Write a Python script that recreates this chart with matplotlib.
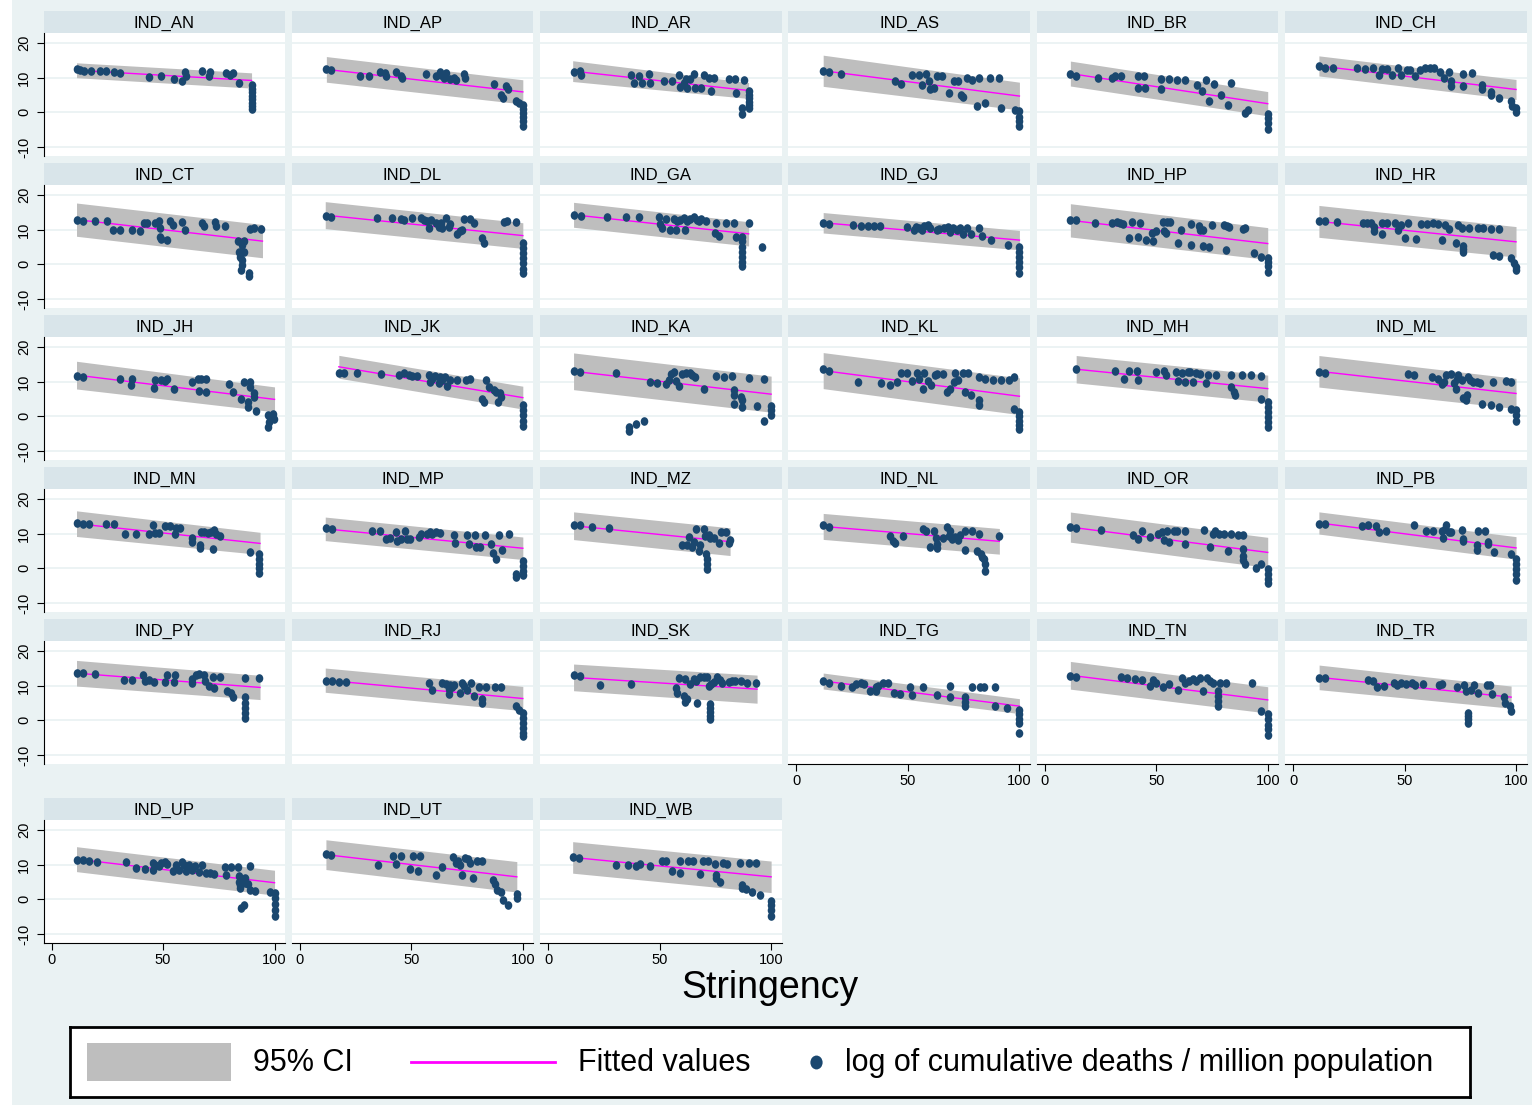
import matplotlib
matplotlib.use("Agg")
import matplotlib.pyplot as plt
from matplotlib.patches import Rectangle
from matplotlib.markers import MarkerStyle
from matplotlib.transforms import Affine2D

plt.rcParams['font.family'] = ['Liberation Sans', 'DejaVu Sans']

# ---------------------------------------------------
# DATA (stringency, log of cumulative deaths / million)
# ---------------------------------------------------

states = ["AN", "AP", "AR", "AS", "BR", "CH", "CT", "DL", "GA", "GJ", "HP",
          "HR", "JH", "JK", "KA", "KL", "MH", "ML", "MN", "MP", "MZ", "NL",
          "OR", "PB", "PY", "RJ", "SK", "TG", "TN", "TR", "UP", "UT", "WB"]

AN_x = [11.2, 12.8, 14.6, 17.9, 21.7, 24.4, 28.0, 30.7, 43.7, 49.3, 54.9, 58.7, 59.9, 60.5, 67.7, 71.1, 70.6, 78.3, 80.0, 81.4, 84.1, 89.7, 89.7, 89.7, 89.7, 89.7, 89.7, 89.7, 89.7]
AN_y = [12.4, 12.2, 11.9, 11.9, 11.9, 11.9, 11.7, 11.4, 10.1, 10.4, 9.7, 9.0, 11.7, 10.4, 11.9, 11.6, 10.4, 11.4, 10.9, 11.4, 8.5, 7.8, 6.8, 5.8, 4.8, 3.8, 2.8, 1.8, 0.9]

AP_x = [11.9, 14.1, 27.1, 30.9, 35.9, 38.3, 38.8, 43.3, 45.5, 46.0, 56.7, 61.2, 62.8, 63.5, 64.6, 65.7, 67.3, 69.1, 70.2, 73.5, 74.2, 87.0, 90.4, 91.0, 92.6, 93.3, 97.1, 98.2, 100, 100, 100, 100, 100, 100]
AP_y = [12.4, 12.2, 10.4, 10.4, 11.6, 11.4, 10.4, 11.6, 10.6, 9.8, 11.2, 10.4, 11.7, 10.9, 10.0, 11.4, 9.5, 10.0, 9.2, 11.1, 10.0, 8.2, 5.1, 4.2, 7.5, 6.6, 3.2, 2.7, 2.2, 1.0, -0.2, -1.4, -2.6, -3.8]

AR_x = [11.4, 14.3, 14.8, 37.2, 38.3, 40.6, 42.2, 45.1, 45.7, 51.8, 55.6, 58.5, 59.2, 60.8, 61.9, 62.3, 63.7, 65.2, 65.9, 68.6, 69.7, 72.0, 73.1, 74.2, 80.9, 83.9, 84.3, 87.7, 87.0, 87.0, 89.9, 89.9, 89.9, 89.9, 89.9, 89.9]
AR_y = [11.7, 11.9, 10.9, 10.9, 8.5, 10.4, 8.5, 11.1, 8.5, 9.0, 9.0, 10.9, 7.2, 8.5, 9.5, 7.1, 9.5, 11.1, 7.1, 6.9, 10.9, 10.0, 6.3, 9.8, 9.5, 9.5, 5.6, 9.2, 1.3, -0.5, 6.1, 5.0, 4.0, 3.0, 2.0, 1.3]

AS_x = [12.0, 14.5, 19.9, 44.0, 47.0, 51.9, 55.1, 56.2, 57.9, 59.4, 59.8, 61.5, 63.2, 65.4, 68.4, 70.5, 72.6, 73.9, 74.8, 76.5, 78.6, 80.8, 81.8, 84.6, 86.8, 91.0, 91.9, 97.9, 100, 100, 100, 100]
AS_y = [11.9, 11.7, 11.2, 9.0, 8.2, 10.9, 10.9, 7.8, 11.1, 9.0, 6.6, 7.1, 10.4, 10.4, 5.6, 9.0, 9.0, 5.1, 4.3, 10.0, 9.2, 1.7, 10.0, 2.7, 9.8, 9.8, 1.3, 0.8, 0.3, -1.2, -2.6, -3.8]

BR_x = [11.5, 14.1, 23.7, 30.1, 31.6, 34.3, 41.8, 44.3, 41.8, 45.0, 52.0, 52.0, 55.7, 59.3, 63.1, 68.4, 70.6, 72.1, 73.8, 75.9, 79.1, 82.3, 83.4, 89.8, 91.3, 100, 100, 100, 100]
BR_y = [11.1, 10.6, 10.0, 10.0, 10.4, 10.4, 10.4, 10.4, 7.1, 7.1, 9.5, 6.6, 9.5, 9.2, 9.2, 8.0, 6.1, 9.2, 3.4, 8.2, 4.9, 2.2, 8.5, -0.2, 0.8, -0.5, -1.6, -3.1, -4.7]

CH_x = [11.6, 14.2, 18.1, 28.9, 32.1, 35.8, 38.6, 39.7, 42.2, 44.4, 47.2, 48.3, 51.1, 52.6, 54.7, 56.9, 59.1, 61.6, 63.4, 65.9, 67.7, 69.8, 70.9, 76.3, 76.3, 80.2, 84.9, 88.8, 92.5, 97.8, 98.3, 100, 100, 70.9, 84.9, 88.8]
CH_y = [13.3, 12.9, 12.9, 12.7, 12.6, 12.7, 10.9, 12.4, 12.4, 10.9, 12.7, 10.9, 12.1, 12.1, 10.4, 12.1, 12.7, 12.9, 12.7, 11.7, 10.0, 11.7, 7.5, 11.2, 7.5, 11.4, 6.6, 4.9, 4.2, 3.2, 1.7, 1.3, 0.1, 9.0, 8.0, 5.9]

CT_x = [11.2, 13.9, 19.5, 25.1, 27.4, 30.7, 36.3, 39.7, 41.5, 43.0, 46.4, 48.2, 48.7, 48.7, 49.1, 52.0, 53.1, 54.3, 58.7, 59.9, 67.7, 68.4, 73.3, 73.8, 77.8, 83.4, 84.1, 84.5, 85.0, 86.3, 86.3, 88.6, 89.0, 90.8, 93.9, 85.6, 85.6, 85.6, 88.6]
CT_y = [12.9, 12.6, 12.6, 12.6, 10.0, 10.0, 10.0, 9.5, 11.9, 11.9, 11.9, 12.4, 10.4, 8.0, 7.2, 7.1, 12.4, 11.4, 12.1, 10.0, 11.9, 11.1, 12.1, 11.1, 11.1, 6.6, 3.7, 2.2, -1.6, 6.6, 3.7, -2.6, 10.1, 10.4, 10.1, 5.6, 1.3, -0.2, -3.4]

DL_x = [11.9, 14.1, 34.8, 41.5, 45.5, 46.6, 50.4, 54.5, 55.6, 57.2, 57.8, 59.0, 61.2, 62.3, 63.5, 63.9, 65.7, 66.8, 67.5, 70.6, 72.0, 72.9, 73.5, 76.5, 78.0, 81.8, 82.5, 91.5, 93.0, 97.1, 100, 100, 100, 100, 100, 100, 100]
DL_y = [14.0, 13.6, 13.3, 13.3, 13.0, 12.9, 13.3, 13.3, 12.9, 12.4, 10.4, 12.7, 11.9, 10.9, 11.9, 10.4, 13.3, 10.9, 11.7, 8.8, 9.5, 9.8, 13.0, 13.0, 11.9, 7.5, 6.1, 12.1, 12.4, 12.1, 6.1, 4.6, 3.2, 1.7, 0.3, -1.2, -2.4]

GA_x = [11.4, 14.8, 26.5, 35.0, 40.6, 49.6, 50.2, 51.1, 52.9, 54.7, 56.3, 57.4, 57.8, 59.2, 60.8, 61.4, 62.3, 63.7, 65.2, 66.8, 67.5, 68.6, 70.9, 74.9, 75.3, 76.5, 79.8, 83.2, 84.3, 87.0, 87.0, 87.0, 87.0, 87.0, 87.0, 87.0, 89.9, 96.0]
GA_y = [14.3, 14.0, 13.6, 13.6, 13.6, 13.6, 11.7, 10.4, 13.0, 9.8, 13.0, 9.8, 12.4, 12.9, 13.3, 9.8, 12.4, 13.0, 13.6, 12.9, 12.4, 13.0, 12.4, 9.0, 11.9, 8.2, 11.9, 11.9, 8.0, 8.0, 6.6, 5.1, 3.7, 2.2, 0.8, -0.5, 11.9, 4.9]

GJ_x = [12.0, 14.5, 25.2, 29.1, 32.1, 34.8, 37.6, 49.8, 52.6, 53.4, 55.1, 56.2, 57.3, 59.0, 59.8, 63.2, 64.1, 66.2, 67.9, 69.0, 70.1, 71.8, 73.3, 74.8, 76.5, 78.2, 81.8, 83.3, 87.2, 94.7, 100, 100, 100, 100, 100, 100]
GJ_y = [11.9, 11.7, 11.4, 11.1, 11.1, 11.1, 11.1, 10.9, 10.0, 10.9, 10.4, 9.8, 11.1, 11.4, 10.4, 9.8, 10.1, 10.4, 10.7, 9.2, 10.4, 10.0, 10.4, 8.8, 10.4, 8.8, 10.4, 8.2, 7.1, 5.6, 4.9, 3.7, 2.2, 0.8, -0.7, -2.6]

HP_x = [11.5, 14.1, 22.6, 30.1, 32.2, 33.7, 35.0, 39.2, 42.9, 38.0, 41.8, 45.6, 48.6, 48.2, 49.9, 52.9, 53.5, 55.0, 54.6, 56.3, 61.0, 59.9, 65.7, 65.7, 69.1, 69.5, 71.2, 71.2, 73.8, 74.8, 80.2, 81.2, 81.9, 82.7, 88.7, 89.8, 94.0, 96.8, 100, 100, 100, 100]
HP_y = [12.9, 12.7, 11.9, 11.9, 12.1, 11.9, 11.7, 12.1, 11.9, 7.5, 8.0, 7.1, 6.6, 9.0, 9.5, 12.1, 9.5, 12.1, 9.0, 12.1, 10.0, 6.1, 5.6, 11.7, 11.1, 10.0, 10.0, 5.3, 4.9, 11.4, 11.4, 4.2, 11.1, 10.9, 10.1, 10.4, 3.2, 2.2, 1.7, 0.8, -0.5, -2.1]

HR_x = [11.6, 14.2, 19.8, 31.5, 33.2, 34.9, 36.4, 39.7, 40.1, 42.2, 45.7, 47.2, 48.3, 50.0, 51.5, 55.2, 57.3, 60.1, 62.9, 65.1, 66.6, 68.1, 69.8, 73.1, 74.1, 75.9, 76.3, 78.9, 82.8, 85.3, 88.8, 92.5, 89.7, 92.5, 97.8, 98.9, 100, 100, 76.3, 76.3, 36.4]
HR_y = [12.6, 12.4, 12.1, 11.9, 11.9, 11.9, 9.5, 11.9, 8.8, 11.9, 11.9, 10.0, 11.4, 7.7, 11.9, 7.2, 11.7, 11.7, 11.9, 11.7, 7.1, 11.4, 10.1, 6.1, 11.4, 10.4, 3.7, 10.4, 10.4, 10.4, 10.2, 10.2, 2.7, 2.4, 1.7, 0.3, -0.7, -1.6, 5.3, 4.5, 10.7]

JH_x = [11.2, 13.9, 30.7, 35.7, 36.3, 46.0, 46.4, 49.1, 50.9, 52.0, 54.9, 63.2, 65.5, 66.1, 67.0, 69.3, 69.3, 79.6, 81.2, 85.0, 86.3, 87.9, 89.0, 90.8, 91.7, 96.9, 97.5, 99.1, 99.8, 87.9, 96.9, 89.0, 90.8]
JH_y = [11.7, 11.4, 10.9, 9.0, 10.9, 8.2, 10.4, 10.4, 10.1, 10.9, 8.0, 10.0, 10.9, 7.2, 10.9, 7.1, 10.9, 9.2, 7.1, 5.1, 10.0, 2.7, 10.0, 6.6, 1.4, 0.3, -1.6, 0.8, -0.7, 4.2, -3.1, 8.5, 5.6]

JK_x = [17.5, 19.7, 25.8, 36.5, 44.4, 46.6, 48.9, 50.4, 52.7, 57.8, 58.5, 59.4, 60.8, 62.3, 63.0, 63.9, 65.2, 66.1, 67.5, 70.6, 74.7, 76.5, 83.6, 84.8, 81.8, 82.5, 87.0, 88.1, 88.8, 89.9, 90.4, 100, 100, 100, 100, 100]
JK_y = [12.4, 12.4, 12.4, 12.1, 11.9, 12.4, 11.9, 11.7, 11.7, 11.9, 10.0, 10.9, 11.7, 9.5, 11.4, 10.4, 11.4, 8.8, 10.4, 10.4, 10.4, 10.7, 10.4, 8.5, 4.9, 4.2, 7.5, 7.1, 4.0, 6.6, 5.6, 3.2, 1.7, 0.3, -1.2, -2.8]

KA_x = [11.4, 14.3, 30.5, 36.1, 39.5, 42.8, 45.7, 48.9, 52.9, 54.0, 55.2, 56.3, 57.4, 58.5, 60.1, 61.9, 63.7, 64.6, 65.9, 69.7, 75.3, 78.7, 82.5, 83.2, 83.2, 86.5, 87.0, 89.9, 93.7, 96.6, 96.6, 100, 100, 100, 83.2, 87.0, 36.1]
KA_y = [13.0, 12.7, 12.4, -3.1, -2.1, -1.4, 9.8, 9.5, 9.2, 10.4, 12.1, 12.7, 10.1, 8.8, 12.1, 12.4, 12.6, 11.9, 11.4, 8.0, 11.6, 11.4, 11.6, 7.5, 3.7, 5.6, 2.7, 11.1, 3.0, 10.9, -1.2, 3.0, 1.7, 0.5, 6.1, 4.6, -4.1]

KL_x = [12.0, 14.5, 27.4, 38.0, 41.9, 44.9, 47.0, 49.8, 51.9, 54.1, 55.1, 56.8, 57.3, 59.0, 60.5, 62.0, 63.2, 65.8, 67.5, 69.0, 70.5, 71.2, 72.6, 74.8, 76.9, 75.4, 78.2, 81.8, 81.8, 84.6, 88.2, 91.9, 95.3, 97.4, 97.4, 100, 100, 100, 100, 100, 81.8]
KL_y = [13.8, 13.0, 9.8, 9.5, 9.0, 10.0, 12.4, 12.4, 10.1, 12.4, 10.9, 8.0, 12.4, 10.1, 9.0, 11.9, 12.1, 12.1, 7.1, 7.8, 10.0, 12.4, 10.4, 12.4, 12.4, 7.1, 6.3, 3.2, 11.4, 10.9, 10.4, 10.4, 10.4, 11.4, 2.2, 1.3, 0.1, -1.2, -2.6, -3.6, 4.6]

MH_x = [14.1, 31.6, 35.4, 38.0, 41.4, 41.8, 49.9, 53.5, 54.6, 58.8, 59.9, 61.4, 62.7, 64.2, 65.2, 66.3, 67.8, 69.5, 72.1, 73.3, 77.0, 83.4, 83.4, 84.9, 85.5, 88.3, 92.5, 96.8, 96.8, 100, 100, 100, 100, 100, 100]
MH_y = [13.6, 13.0, 10.9, 13.0, 13.0, 10.4, 12.9, 13.0, 11.9, 12.9, 10.1, 12.4, 10.0, 12.7, 12.9, 10.0, 12.4, 12.1, 9.5, 11.9, 11.9, 11.9, 8.5, 7.1, 6.3, 11.9, 11.9, 11.7, 5.1, 4.2, 2.7, 1.3, -0.2, -1.6, -3.1]

ML_x = [11.6, 14.2, 51.5, 54.3, 62.3, 65.1, 66.6, 67.7, 68.8, 70.9, 72.0, 73.1, 73.7, 74.1, 75.9, 76.3, 77.4, 78.0, 78.4, 79.5, 80.6, 82.3, 83.8, 84.9, 88.8, 92.5, 89.7, 95.3, 97.8, 97.8, 100, 100, 100]
ML_y = [12.7, 12.4, 12.1, 11.9, 11.4, 10.9, 9.2, 10.0, 11.9, 12.1, 9.5, 8.0, 10.9, 11.9, 10.4, 5.3, 4.6, 6.1, 11.4, 10.4, 10.0, 9.8, 9.5, 3.7, 3.2, 2.7, 10.0, 10.2, 10.0, 2.2, 1.7, 0.3, -1.2]

MN_x = [11.2, 13.9, 16.8, 24.4, 28.0, 33.0, 37.9, 43.7, 45.3, 46.4, 48.2, 50.9, 53.1, 55.4, 55.8, 57.6, 63.2, 63.2, 66.6, 66.6, 67.0, 68.4, 70.0, 71.5, 72.2, 72.9, 73.8, 75.6, 89.0, 93.0, 93.0, 93.0, 93.0, 93.0]
MN_y = [13.0, 12.9, 12.7, 12.7, 12.7, 10.0, 10.0, 9.8, 12.4, 10.1, 10.1, 12.1, 12.1, 9.8, 11.7, 11.6, 8.8, 7.5, 6.6, 5.9, 10.4, 10.4, 10.1, 10.4, 5.6, 11.1, 10.0, 9.2, 4.6, 4.2, 2.7, 1.3, 0.1, -1.2]

MP_x = [11.9, 14.6, 32.5, 36.1, 38.8, 40.6, 43.3, 43.7, 45.5, 47.3, 48.2, 49.6, 53.4, 54.5, 57.2, 58.5, 59.4, 61.2, 63.0, 69.1, 69.7, 75.1, 75.8, 78.7, 79.1, 80.9, 83.2, 85.9, 86.5, 88.1, 89.2, 90.8, 93.7, 97.1, 97.1, 100, 100, 100, 100]
MP_y = [11.6, 11.4, 10.7, 10.7, 8.5, 8.8, 10.4, 7.8, 8.5, 10.9, 8.5, 8.5, 9.0, 9.8, 10.0, 10.4, 9.8, 10.4, 10.1, 9.5, 7.2, 9.5, 7.1, 9.5, 6.3, 6.1, 9.7, 7.1, 4.3, 2.7, 9.5, 5.3, 9.8, -2.6, -1.6, 2.2, 0.8, -0.7, -1.9]

MZ_x = [11.4, 14.3, 19.7, 27.1, 60.1, 62.3, 63.0, 64.6, 65.2, 66.4, 67.5, 68.2, 69.7, 70.4, 70.9, 71.3, 71.3, 71.3, 72.0, 72.6, 74.2, 76.5, 77.6, 79.8, 80.9, 81.6]
MZ_y = [12.4, 12.4, 11.9, 11.7, 6.6, 6.6, 9.0, 6.1, 7.5, 11.4, 4.9, 6.6, 11.4, 9.2, 4.2, 2.7, 1.3, -0.2, 9.5, 8.8, 8.8, 7.2, 10.4, 10.4, 7.2, 8.2]

NL_x = [12.0, 14.5, 41.9, 43.4, 44.0, 47.6, 56.8, 58.3, 59.8, 61.5, 62.6, 63.2, 63.2, 65.8, 67.5, 68.4, 69.0, 69.7, 71.2, 72.6, 73.3, 75.4, 75.4, 78.6, 81.2, 81.8, 82.9, 84.0, 84.6, 91.0, 84.6, 83.3]
NL_y = [12.4, 11.9, 9.2, 8.0, 7.2, 9.2, 11.4, 10.9, 6.3, 10.9, 8.8, 7.1, 5.9, 8.8, 11.9, 9.2, 10.9, 8.5, 9.0, 8.2, 9.5, 10.9, 5.3, 10.9, 5.1, 10.0, 4.2, 2.7, -0.9, 9.2, 1.3, 3.4]

OR_x = [11.5, 14.1, 25.2, 39.7, 41.8, 43.5, 47.1, 50.7, 52.5, 53.5, 55.0, 55.7, 57.8, 59.3, 62.7, 63.1, 71.6, 74.2, 75.5, 76.3, 78.0, 80.6, 82.3, 83.4, 86.6, 89.1, 89.1, 89.8, 94.7, 96.8, 100, 100, 100, 100, 89.1, 89.1]
OR_y = [11.9, 11.7, 11.1, 9.5, 8.5, 10.9, 9.0, 10.0, 10.4, 8.2, 10.9, 7.5, 10.9, 10.9, 10.9, 6.9, 11.1, 6.3, 10.0, 10.9, 10.0, 9.8, 4.9, 10.0, 9.5, 9.5, 3.7, 1.3, 0.1, 1.3, -0.2, -1.6, -3.1, -4.1, 5.5, 2.5]

PB_x = [11.6, 14.2, 31.0, 33.6, 37.1, 38.6, 41.8, 54.3, 59.5, 62.9, 66.6, 67.2, 68.1, 68.8, 69.8, 70.9, 75.9, 76.3, 82.3, 82.8, 86.0, 87.5, 90.3, 97.8, 100, 100, 100, 100, 100, 82.3, 76.3, 87.5]
PB_y = [12.7, 12.7, 12.1, 12.4, 12.1, 10.4, 10.9, 12.4, 10.9, 10.9, 10.9, 8.8, 11.4, 12.4, 10.4, 10.4, 11.1, 7.8, 5.3, 10.9, 10.9, 6.9, 4.6, 4.0, 2.7, 1.3, -0.2, -1.6, -3.4, 6.6, 8.5, 7.5]

PY_x = [11.2, 13.9, 19.5, 32.5, 36.3, 40.8, 41.9, 43.7, 46.0, 50.9, 52.0, 54.9, 55.4, 63.2, 63.2, 64.8, 66.1, 68.4, 68.8, 70.6, 72.2, 72.9, 75.6, 78.9, 80.5, 81.2, 86.8, 86.8, 86.8, 86.8, 86.8, 86.8, 93.0]
PY_y = [13.8, 13.6, 13.3, 11.6, 11.6, 13.0, 11.4, 11.7, 11.2, 11.2, 13.0, 11.2, 13.0, 10.9, 11.9, 13.0, 13.3, 13.0, 11.4, 10.0, 12.4, 9.2, 12.4, 8.5, 7.8, 6.6, 12.1, 6.6, 5.1, 3.7, 2.2, 0.8, 12.1]

RJ_x = [11.9, 14.6, 17.5, 20.9, 57.8, 59.4, 63.9, 65.7, 66.8, 67.5, 68.4, 69.1, 72.0, 72.9, 73.5, 75.1, 76.9, 78.0, 80.3, 81.8, 83.6, 87.7, 90.4, 97.1, 98.2, 100, 100, 100, 100, 100, 100, 81.8, 66.8]
RJ_y = [11.4, 11.4, 11.1, 11.1, 10.9, 8.8, 10.9, 10.4, 7.5, 10.1, 9.5, 10.1, 8.0, 10.9, 9.8, 8.8, 10.9, 7.1, 9.5, 4.9, 9.5, 9.5, 9.5, 4.0, 3.0, 2.2, 0.8, -0.7, -2.1, -3.6, -4.5, 6.1, 9.0]

SK_x = [11.4, 14.3, 23.3, 37.2, 57.4, 57.8, 58.5, 60.8, 61.4, 61.4, 62.3, 63.7, 65.2, 66.4, 66.8, 68.2, 69.7, 71.3, 72.0, 72.6, 72.6, 73.1, 74.2, 75.8, 77.1, 78.0, 80.9, 82.5, 83.9, 86.5, 89.2, 93.3, 72.6, 72.6, 72.6]
SK_y = [13.0, 12.7, 10.1, 10.4, 9.2, 8.0, 12.1, 7.1, 11.9, 5.3, 6.3, 10.4, 11.9, 11.4, 4.9, 12.4, 12.4, 12.4, 10.0, 3.7, 1.3, 10.6, 11.1, 12.4, 11.7, 10.9, 11.1, 11.4, 11.4, 11.4, 10.9, 10.9, 2.4, 0.5, 4.6]

TG_x = [11.9, 14.5, 19.8, 25.1, 26.8, 28.9, 30.4, 33.2, 35.7, 36.8, 38.9, 41.1, 43.8, 46.4, 51.1, 51.7, 56.6, 63.0, 68.7, 68.7, 75.7, 75.7, 78.7, 82.1, 84.3, 88.9, 88.9, 94.3, 100, 100, 100, 100, 100, 75.7, 35.7]
TG_y = [11.4, 10.9, 10.0, 9.5, 10.4, 10.9, 10.4, 8.5, 8.5, 10.0, 10.9, 10.9, 7.8, 7.5, 9.5, 7.2, 9.5, 7.2, 9.8, 6.6, 6.6, 4.2, 9.7, 9.7, 9.5, 9.7, 4.0, 3.7, 3.0, 1.7, 0.5, -0.7, -3.6, 5.3, 9.5]

TN_x = [11.5, 14.1, 34.3, 37.1, 40.7, 43.5, 47.1, 48.6, 49.9, 52.9, 55.7, 59.9, 61.4, 63.1, 64.8, 66.3, 67.8, 69.5, 71.2, 72.7, 74.2, 75.5, 77.6, 77.6, 78.5, 81.2, 93.0, 96.8, 100, 100, 100, 100, 100, 77.6, 77.6]
TN_y = [12.9, 12.6, 12.4, 12.1, 11.9, 11.7, 10.0, 11.7, 10.9, 9.5, 10.6, 8.8, 12.1, 10.9, 11.4, 11.9, 11.4, 12.1, 8.5, 12.1, 11.4, 10.9, 7.1, 4.2, 10.9, 10.9, 10.9, 2.7, 1.7, 0.3, -1.2, -2.6, -4.3, 8.5, 5.6]

TR_x = [11.7, 14.3, 33.8, 35.9, 37.7, 40.9, 45.2, 46.8, 48.5, 50.6, 53.2, 54.5, 58.2, 65.4, 66.9, 73.4, 76.6, 77.7, 78.4, 78.4, 78.4, 78.4, 79.9, 81.0, 83.1, 87.0, 88.5, 89.2, 94.4, 95.0, 97.2, 97.8]
TR_y = [12.2, 12.1, 11.6, 11.4, 9.7, 10.0, 10.9, 10.1, 10.9, 10.4, 10.9, 10.1, 10.6, 10.2, 10.6, 9.5, 10.1, 8.5, 2.2, 1.3, 0.3, -0.7, 8.8, 10.1, 8.0, 10.1, 10.1, 7.5, 6.6, 4.9, 4.0, 2.7]

UP_x = [11.2, 13.9, 16.8, 20.6, 33.4, 37.9, 41.9, 45.3, 45.3, 46.4, 48.2, 49.1, 50.9, 52.0, 54.3, 55.8, 57.2, 58.7, 59.4, 60.3, 61.7, 63.2, 64.3, 66.1, 67.7, 69.3, 71.1, 72.9, 77.8, 78.3, 80.5, 83.4, 84.1, 84.5, 85.0, 85.7, 86.3, 86.8, 87.9, 89.0, 89.0, 91.3, 98.0, 100, 100, 100, 100, 100, 84.1, 84.5, 86.8]
UP_y = [11.3, 11.3, 11.0, 10.8, 10.7, 9.0, 8.8, 8.5, 10.5, 9.8, 9.5, 10.5, 10.7, 10.2, 8.1, 10.0, 8.5, 10.7, 9.8, 8.3, 10.0, 8.5, 9.5, 7.9, 9.8, 7.6, 7.6, 7.4, 9.2, 7.1, 9.2, 9.2, 6.6, 3.2, -2.6, 5.1, -1.7, 6.1, 4.4, 9.5, 2.7, 2.4, 2.2, 1.7, 0.3, -1.2, -3.1, -4.8, 5.1, 4.2, 4.7]

UT_x = [11.7, 13.9, 35.2, 41.9, 43.0, 45.3, 49.3, 50.9, 53.1, 53.8, 61.0, 63.7, 68.8, 70.0, 71.1, 71.7, 72.6, 74.0, 75.6, 76.2, 77.8, 79.4, 81.6, 86.8, 88.3, 90.1, 91.3, 93.5, 97.3, 87.4, 97.3]
UT_y = [13.1, 12.7, 9.8, 12.4, 10.2, 12.4, 8.8, 12.4, 8.1, 12.4, 7.1, 9.2, 12.1, 10.5, 11.2, 10.0, 6.9, 11.9, 11.5, 10.5, 6.3, 11.0, 11.2, 5.6, 2.7, 2.2, -0.2, -1.7, 1.5, 4.4, 0.5]

WB_x = [11.0, 14.0, 30.6, 35.8, 39.2, 41.4, 45.5, 50.9, 52.7, 55.4, 59.0, 59.0, 62.8, 65.1, 68.0, 69.6, 71.8, 74.8, 75.2, 77.0, 78.6, 80.2, 86.0, 86.9, 88.7, 89.9, 91.4, 93.2, 95.0, 100, 100, 100, 100, 75.2, 86.9]
WB_y = [12.1, 11.9, 9.8, 9.8, 9.5, 10.2, 9.5, 11.2, 11.0, 8.3, 7.6, 11.2, 11.2, 11.2, 7.3, 11.2, 11.0, 10.2, 7.1, 5.0, 10.5, 10.2, 10.5, 4.2, 2.9, 10.5, 2.2, 10.5, 1.3, -0.5, -1.7, -3.1, -4.8, 6.1, 3.2]

# fitted line ends and 95% CI half widths, same order as states
fit_x0 = [11.2, 11.9, 11.0, 12.0, 11.5, 11.6, 11.2, 11.4, 11.4, 12.0, 11.5, 11.6, 11.2, 17.5, 11.4, 12.0, 14.1,
          11.6, 11.2, 11.4, 11.4, 12.0, 11.5, 11.6, 11.2, 11.4, 11.4, 12.0, 11.5, 11.7, 11.2, 11.7, 11.0]
fit_x1 = [89.7, 100, 89.9, 100, 100, 100, 94.6, 100, 89.9, 100, 100, 100, 100, 100, 100, 100, 100,
          100, 93.5, 100, 81.6, 91.0, 100, 100, 93.5, 100, 93.7, 100, 100, 97.8, 100, 97.3, 100]
fit_y0 = [12.15, 12.4, 11.9, 12.0, 11.2, 13.4, 12.9, 14.2, 14.3, 12.0, 12.7, 12.4, 11.9, 14.3, 13.0, 13.2, 13.6,
          13.0, 12.9, 11.4, 12.3, 12.1, 11.9, 13.1, 13.6, 11.6, 12.4, 11.35, 13.0, 12.4, 11.6, 12.9, 12.1]
fit_y1 = [9.2, 5.9, 6.3, 4.7, 2.5, 6.6, 6.7, 8.3, 8.8, 7.0, 6.0, 6.5, 4.9, 5.4, 6.4, 5.8, 8.0,
          6.6, 7.2, 5.8, 7.7, 7.8, 4.6, 5.9, 9.5, 6.3, 9.0, 4.1, 5.9, 6.7, 4.8, 6.5, 6.5]
ci_h0 = [2.15, 3.7, 3.0, 4.5, 3.6, 2.9, 4.8, 3.9, 3.6, 2.95, 4.8, 4.6, 4.0, 3.3, 5.3, 5.2, 3.95,
         4.55, 3.7, 3.4, 4.0, 3.75, 4.35, 3.2, 3.7, 3.5, 3.85, 2.3, 4.0, 3.55, 3.6, 4.3, 4.55]
ci_h1 = [2.2, 3.5, 2.3, 4.0, 3.5, 2.9, 4.8, 3.7, 3.5, 2.8, 4.6, 4.4, 3.6, 3.3, 5.2, 5.3, 3.9,
         4.35, 3.2, 3.25, 4.0, 3.7, 4.35, 3.25, 3.5, 3.5, 4.05, 2.15, 3.8, 3.2, 3.6, 4.4, 4.55]

series = {
    "AN": (AN_x, AN_y), "AP": (AP_x, AP_y), "AR": (AR_x, AR_y), "AS": (AS_x, AS_y),
    "BR": (BR_x, BR_y), "CH": (CH_x, CH_y), "CT": (CT_x, CT_y), "DL": (DL_x, DL_y),
    "GA": (GA_x, GA_y), "GJ": (GJ_x, GJ_y), "HP": (HP_x, HP_y), "HR": (HR_x, HR_y),
    "JH": (JH_x, JH_y), "JK": (JK_x, JK_y), "KA": (KA_x, KA_y), "KL": (KL_x, KL_y),
    "MH": (MH_x, MH_y), "ML": (ML_x, ML_y), "MN": (MN_x, MN_y), "MP": (MP_x, MP_y),
    "MZ": (MZ_x, MZ_y), "NL": (NL_x, NL_y), "OR": (OR_x, OR_y), "PB": (PB_x, PB_y),
    "PY": (PY_x, PY_y), "RJ": (RJ_x, RJ_y), "SK": (SK_x, SK_y), "TG": (TG_x, TG_y),
    "TN": (TN_x, TN_y), "TR": (TR_x, TR_y), "UP": (UP_x, UP_y), "UT": (UT_x, UT_y),
    "WB": (WB_x, WB_y),
}

# ---------------------------------------------------
# LAYOUT (pixels)
# ---------------------------------------------------

W, H = 1532, 1105
BG = '#EAF2F3'
STRIP = '#D9E5EA'
NAVY = '#1A476F'
CI_GRAY = '#BEBEBE'
MAGENTA = '#FF00FF'

# slightly tall dot, like the Stata markers
dot = MarkerStyle('o', transform=Affine2D().scale(0.88, 1.0))

fig = plt.figure(figsize=(W / 100, H / 100), dpi=100)
fig.patch.set_facecolor(BG)
fig.patches.append(Rectangle((0, 0), 12 / W, 1, transform=fig.transFigure,
                             facecolor='white', edgecolor='none', zorder=0))


def px_axes(x, y, w, h):
    return fig.add_axes([x / W, 1 - (y + h) / H, w / W, h / H])


col_left = 43.5
col_step = 248.3
pw = 241.5
header_tops = [11, 163, 315, 467, 619, 798]
hh = 22
ph = 123

for i, st in enumerate(states):
    r, c = divmod(i, 6)
    x = col_left + c * col_step
    top = header_tops[r]

    # header strip
    hax = px_axes(x, top, pw, hh)
    hax.set_facecolor(STRIP)
    hax.set_xticks([])
    hax.set_yticks([])
    for s in hax.spines.values():
        s.set_visible(False)
    hax.text(0.5, 0.45, 'IND_' + st, ha='center', va='center', fontsize=12,
             transform=hax.transAxes)

    # plot area
    ax = px_axes(x, top + hh, pw, ph)
    ax.set_facecolor('white')
    ax.set_xlim(-3.6, 104.7)
    ax.set_ylim(-12.6, 22.9)
    for s in ax.spines.values():
        s.set_visible(False)

    ax.set_yticks([-10, 0, 10, 20])
    ax.grid(axis='y', color=BG, lw=1.3)
    ax.set_axisbelow(True)

    xs, ys = series[st]
    ax.fill_between([fit_x0[i], fit_x1[i]],
                    [fit_y0[i] - ci_h0[i], fit_y1[i] - ci_h1[i]],
                    [fit_y0[i] + ci_h0[i], fit_y1[i] + ci_h1[i]],
                    color=CI_GRAY, lw=0, zorder=2)
    ax.plot([fit_x0[i], fit_x1[i]], [fit_y0[i], fit_y1[i]],
            color=MAGENTA, lw=1.0, zorder=3)
    ax.plot(xs, ys, linestyle='none', marker=dot, ms=6.2, color=NAVY, mew=0, zorder=4)

    # y axis only on the first column
    if c == 0:
        ax.spines['left'].set_visible(True)
        ax.spines['left'].set_color('black')
        ax.set_yticklabels(['-10', '0', '10', '20'], rotation=90, va='center')
        ax.tick_params(axis='y', length=5, pad=4, labelsize=10.5, color='black')
    else:
        ax.tick_params(axis='y', left=False, labelleft=False)

    # x axis only on the bottom panel of each column
    bottom = (r == 5) or (r == 4 and c >= 3)
    if bottom:
        ax.spines['bottom'].set_visible(True)
        ax.spines['bottom'].set_color('black')
        ax.set_xticks([0, 50, 100])
        ax.tick_params(axis='x', length=5, pad=2, labelsize=10.5, color='black')
    else:
        ax.set_xticks([])

# axis title
fig.text(770 / W, 1 - 988 / H, 'Stringency', fontsize=27, ha='center', va='center')

# ---------------------------------------------------
# LEGEND
# ---------------------------------------------------

lax = px_axes(70, 1027, 1400, 70)
lax.set_facecolor('white')
lax.set_xlim(70, 1470)
lax.set_ylim(1097, 1027)
lax.set_xticks([])
lax.set_yticks([])
for s in lax.spines.values():
    s.set_color('black')
    s.set_linewidth(2)

lax.add_patch(Rectangle((87, 1043), 144, 38, facecolor=CI_GRAY, edgecolor='none'))
lax.text(253, 1063, '95% CI', fontsize=22, va='center', ha='left')
lax.plot([411, 555], [1062, 1062], color=MAGENTA, lw=2)
lax.text(578, 1063, 'Fitted values', fontsize=22, va='center', ha='left')
lax.plot([816], [1062], linestyle='none', marker=dot, ms=10, color=NAVY, mew=0)
lax.text(845, 1063, 'log of cumulative deaths / million population', fontsize=22,
         va='center', ha='left')

fig.savefig('out.png', dpi=100, facecolor=fig.get_facecolor())
